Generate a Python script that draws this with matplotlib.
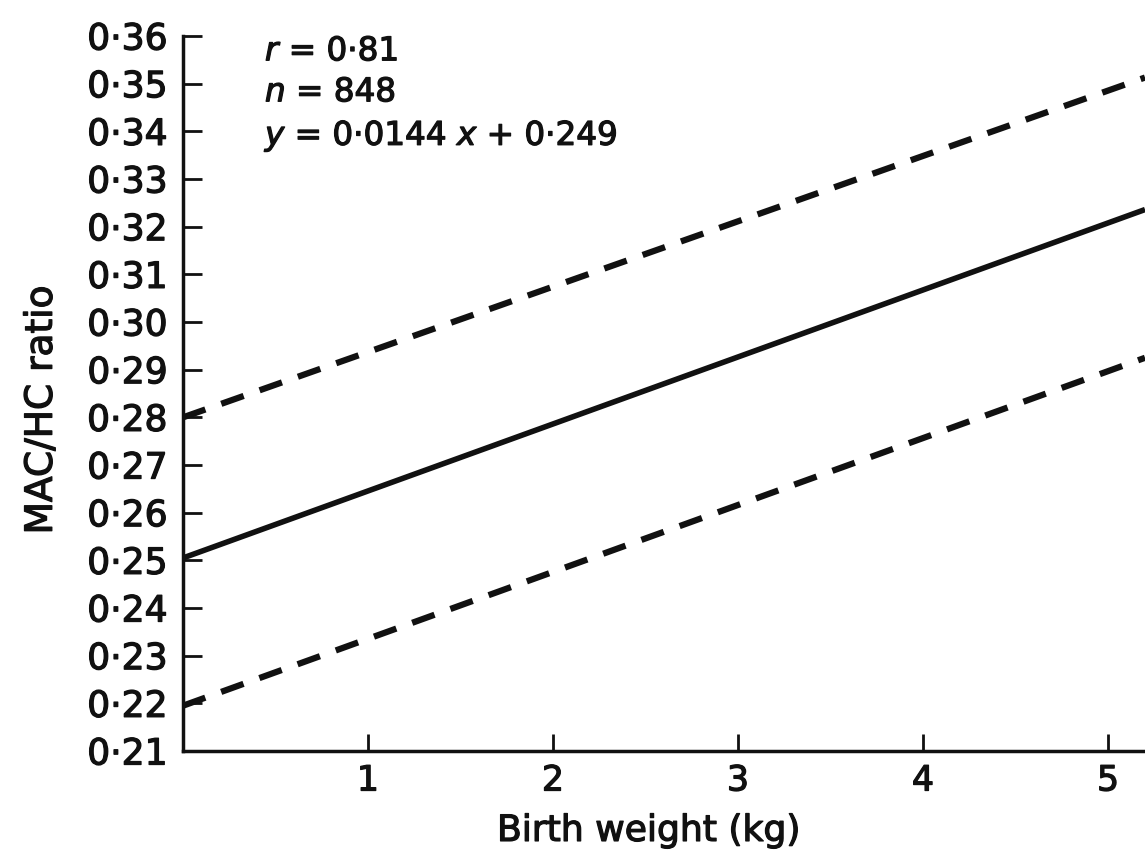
import matplotlib
matplotlib.use("Agg")
import matplotlib.pyplot as plt
import matplotlib.patheffects as pe

# ---- data ----
x_ends = [0.0, 5.2]
fit_line = [0.2505, 0.3236]          # solid regression line
upper_limit = [0.2800, 0.3513]       # upper dashed line
lower_limit = [0.2195, 0.2925]       # lower dashed line

x_ticks = [1, 2, 3, 4, 5]
x_tick_labels = ["1", "2", "3", "4", "5"]
y_ticks = [0.21, 0.22, 0.23, 0.24, 0.25, 0.26, 0.27, 0.28,
           0.29, 0.30, 0.31, 0.32, 0.33, 0.34, 0.35, 0.36]
y_tick_labels = ["0·21", "0·22", "0·23", "0·24", "0·25", "0·26", "0·27", "0·28",
                 "0·29", "0·30", "0·31", "0·32", "0·33", "0·34", "0·35", "0·36"]
stats_lines = ["$r$ = 0·81", "$n$ = 848", "$y$ = 0·0144 $x$ + 0·249"]

plt.rcParams['font.family'] = ['DejaVu Sans']
plt.rcParams['mathtext.fontset'] = 'dejavusans'

INK = '#111111'
thick = [pe.withStroke(linewidth=0.9, foreground=INK)]

fig = plt.figure(figsize=(11.45, 8.62), dpi=100)
ax = fig.add_axes([0.1598, 0.1276, 0.8402, 0.8294])

ax.plot(x_ends, fit_line, color=INK, lw=4.0, solid_capstyle='butt')
ax.plot(x_ends, upper_limit, color=INK, lw=4.5, dashes=(3.8, 2.7))
ax.plot(x_ends, lower_limit, color=INK, lw=4.5, dashes=(3.8, 2.7))

ax.set_xlim(0, 5.2)
ax.set_ylim(0.21, 0.36)

ax.spines['top'].set_visible(False)
ax.spines['right'].set_visible(False)
for s in ('left', 'bottom'):
    ax.spines[s].set_linewidth(2.5)
    ax.spines[s].set_color(INK)

ax.set_xticks(x_ticks)
ax.set_xticklabels(x_tick_labels)
ax.set_yticks(y_ticks)
ax.set_yticklabels(y_tick_labels)
ax.tick_params(axis='y', direction='in', length=14, width=2, pad=11,
               labelsize=26, colors=INK)
ax.tick_params(axis='x', direction='in', length=12, width=2, pad=9,
               labelsize=25, colors=INK)
for lab in ax.get_xticklabels() + ax.get_yticklabels():
    lab.set_path_effects(thick)

ax.set_xlabel("Birth weight (kg)", fontsize=26, color=INK, path_effects=thick)
ax.set_ylabel("MAC/HC ratio", fontsize=27, color=INK, path_effects=thick)
ax.xaxis.set_label_coords(0.484, -0.088)
ax.yaxis.set_label_coords(-0.128, 0.477)

# stats annotation (positions in pixels converted to axes fraction)
ax_left_px, ax_top_px, ax_w_px, ax_h_px = 183, 37, 962, 715
for txt, ypx in zip(stats_lines, [52, 93, 137]):
    ax.text((265 - ax_left_px) / ax_w_px, 1 - (ypx - ax_top_px) / ax_h_px, txt,
            transform=ax.transAxes, fontsize=23.5, va='center', ha='left',
            color=INK, clip_on=False, path_effects=thick)

fig.savefig("out.png", dpi=100, facecolor='white')
